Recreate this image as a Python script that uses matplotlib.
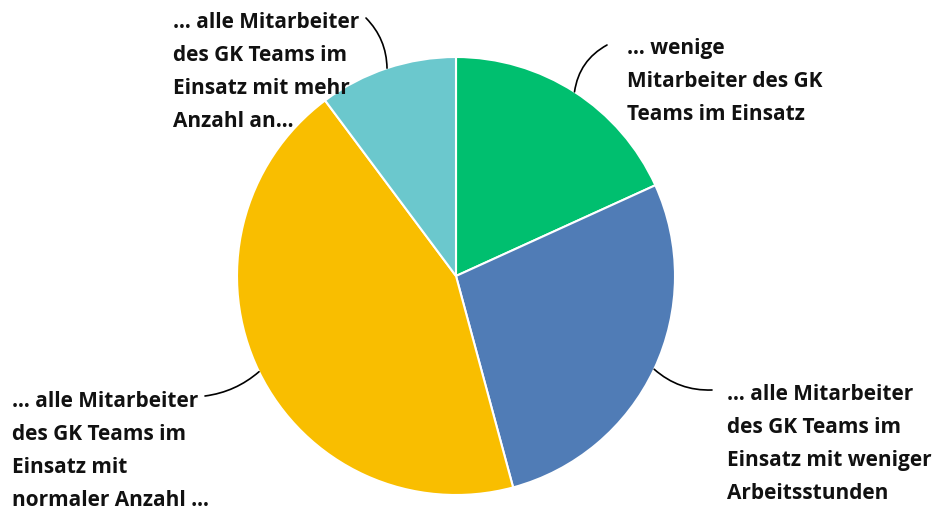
import matplotlib.pyplot as plt
import numpy as np

# Anteile (im Uhrzeigersinn ab 12 Uhr)
labels = [
    "… wenige\nMitarbeiter des GK\nTeams im Einsatz",
    "… alle Mitarbeiter\ndes GK Teams im\nEinsatz mit weniger\nArbeitsstunden",
    "… alle Mitarbeiter\ndes GK Teams im\nEinsatz mit\nnormaler Anzahl …",
    "… alle Mitarbeiter\ndes GK Teams im\nEinsatz mit mehr\nAnzahl an…",
]
values = [18.2, 27.6, 44.0, 10.2]
colors = ["#00BF6F", "#507CB6", "#F9BE00", "#6BC8CD"]

# Layout in Pixeln (y nach oben)
W, H = 946, 511
CX, CY, R = 456, H - 276, 219
text_pos = [(627, H - 38), (727, H - 384), (12, H - 391), (173, H - 12)]
line_end = [(607, H - 45), (712, H - 390), (205, H - 396), (366, H - 18)]
rads = [0.25, -0.2, 0.15, -0.2]

fig = plt.figure(figsize=(W / 100, H / 100), dpi=100)
ax = fig.add_axes([0, 0, 1, 1])

wedges, _ = ax.pie(values, colors=colors, startangle=90, counterclock=False,
                   center=(CX, CY), radius=R, frame=True,
                   wedgeprops=dict(edgecolor="white", linewidth=1.5))
ax.set_xlim(0, W)
ax.set_ylim(0, H)
ax.set_aspect("equal")
ax.axis("off")

for w, lab, tp, le, rad in zip(wedges, labels, text_pos, line_end, rads):
    ang = np.deg2rad((w.theta1 + w.theta2) / 2)
    edge = (CX + R * np.cos(ang), CY + R * np.sin(ang))
    ax.annotate("", xy=edge, xytext=le,
                arrowprops=dict(arrowstyle="-", color="black", lw=1.2,
                                shrinkA=0, shrinkB=0,
                                connectionstyle=f"arc3,rad={rad}"))
    ax.text(tp[0], tp[1], lab, ha="left", va="top", fontsize=15,
            fontfamily="Open Sans", fontweight="bold", linespacing=1.74,
            color="#111111")

fig.savefig("out.png", dpi=100)
